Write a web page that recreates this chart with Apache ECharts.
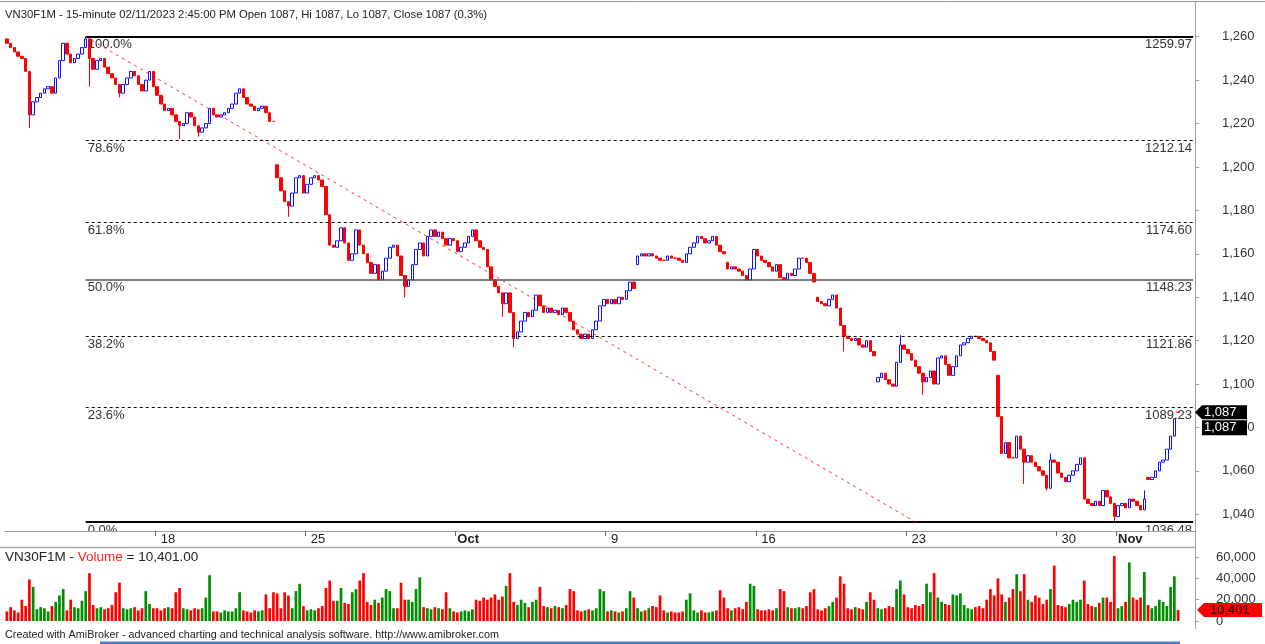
<!DOCTYPE html>
<html>
<head>
<meta charset="utf-8">
<title>VN30F1M 15-minute</title>
<script src="https://cdn.jsdelivr.net/npm/echarts@6.0.0/dist/echarts.min.js"></script>
<style>
html,body{margin:0;padding:0;background:#fff;}
#main{width:1265px;height:644px;}
</style>
</head>
<body>
<div id="main"></div>
<script>
var FONT = '"Liberation Sans", Arial, sans-serif';

// closes, 8 bars per session (last session has one more bar)
var closes = [
    1257,1255,1253,1251,1250,1244,1224,1230,
    1232,1234,1236,1237,1234,1241,1249,1257,
    1252,1248,1250,1252,1255,1259,1250,1245,
    1249,1250,1246,1243,1241,1238,1234,1238,
    1241,1244,1242,1238,1235,1240,1244,1237,
    1233,1229,1226,1227,1224,1221,1219,1220,
    1225,1223,1219,1216,1218,1220,1227,1224,
    1223,1224,1225,1227,1229,1234,1236,1232,
    1229,1228,1226,1227,1228,1225,1221,1221,
    1195,1189,1184,1182,1188,1195,1196,1188,
    1192,1195,1196,1194,1191,1178,1164,1163,
    1166,1172,1165,1157,1160,1171,1164,1160,
    1156,1151,1155,1148,1152,1158,1163,1164,
    1159,1150,1145,1148,1155,1162,1165,1159,
    1168,1171,1168,1170,1167,1164,1167,1166,
    1161,1163,1165,1168,1171,1166,1163,1162,
    1154,1148,1145,1142,1137,1142,1133,1121,
    1124,1129,1133,1131,1134,1141,1136,1133,
    1135,1133,1134,1132,1135,1133,1129,1125,
    1123,1121,1123,1121,1125,1129,1136,1139,
    1137,1139,1137,1140,1139,1143,1147,1144,
    1159,1160,1159,1160,1159,1158,1157,1157,
    1159,1158,1158,1157,1156,1160,1163,1165,
    1168,1167,1165,1166,1168,1164,1161,1160,
    1153,1154,1153,1152,1150,1148,1153,1162,
    1159,1157,1156,1154,1152,1155,1149,1148,
    1151,1150,1153,1158,1158,1156,1151,1147,
    1138,1137,1136,1139,1141,1135,1127,1122,
    1121,1120,1121,1118,1117,1120,1115,1113,
    1103,1105,1102,1100,1099,1110,1118,1116,
    1114,1111,1108,1105,1101,1103,1106,1100,
    1112,1113,1109,1104,1108,1113,1118,1119,
    1121,1122,1122,1121,1120,1119,1115,1111,
    1085,1068,1073,1066,1066,1076,1070,1064,
    1067,1064,1062,1060,1058,1052,1065,1064,
    1059,1057,1055,1058,1060,1063,1066,1047,
    1045,1044,1046,1044,1051,1048,1045,1039,
    1044,1045,1043,1047,1046,1044,1042,1047,
    1056,1057,1060,1064,1065,1070,1076,1084,1087
];

// opens where the session gapped (bar index, open); other bars open at the previous close
var sessionOpens = [[0,1259],[72,1201],[168,1155],[192,1156],[216,1140],[232,1101],[264,1104],[304,1057],[312,1087]];

// long shadows (bar index, low, high)
var wicks = [
    [6,1218,null],[21,null,1259.97],[22,1237,null],[30,1232,null],[46,1213,null],[51,1214,null],
    [75,1177,null],[106,1140,null],[132,1131,null],[135,1117,null],[223,1115,null],[238,null,1122.5],
    [244,1095,null],[271,1054,null],[277,1051,null],[278,null,1068],[295,1036.48,null],[303,null,1051]
];

var volumes = [
    9000,13000,10000,8000,20000,14000,39000,32000,
    11000,13000,12000,9000,14000,18000,24000,30000,
    10000,20000,13000,12000,19000,28000,45000,15000,
    12000,13000,11000,12000,15000,27000,36000,12000,
    11000,12000,13000,10000,12000,28000,16000,12000,
    12000,10000,12000,13000,12000,27000,31000,12000,
    11000,10000,12000,11000,12000,22000,43000,9000,
    9000,8000,10000,9000,9000,12000,27000,10000,
    9000,8000,10000,9000,10000,25000,12000,27000,
    26000,12000,27000,24000,12000,28000,35000,14000,
    10000,11000,10000,12000,14000,31000,38000,19000,
    19000,31000,17000,16000,27000,30000,38000,45000,
    18000,15000,20000,17000,22000,30000,28000,12000,
    12000,36000,20000,20000,18000,30000,41000,13000,
    12000,11000,13000,12000,11000,27000,12000,9000,
    8000,9000,10000,9000,11000,20000,19000,22000,
    20000,22000,25000,20000,23000,33000,45000,18000,
    15000,20000,17000,13000,18000,20000,32000,14000,
    13000,12000,14000,13000,12000,15000,30000,28000,
    10000,9000,10000,11000,10000,12000,30000,28000,
    9000,10000,9000,8000,9000,12000,28000,22000,
    12000,9000,10000,12000,14000,13000,24000,10000,
    8000,9000,8000,8000,9000,20000,26000,10000,
    8000,10000,8000,8000,9000,10000,29000,22000,
    12000,10000,12000,13000,11000,18000,35000,33000,
    11000,10000,10000,11000,10000,12000,30000,28000,
    13000,12000,12000,13000,12000,14000,27000,30000,
    11000,10000,12000,14000,18000,22000,42000,35000,
    12000,11000,13000,12000,11000,18000,27000,20000,
    12000,11000,12000,14000,13000,30000,38000,25000,
    13000,12000,15000,14000,16000,35000,27000,45000,
    22000,18000,16000,15000,25000,24000,26000,15000,
    12000,11000,13000,14000,12000,20000,30000,24000,
    40000,25000,18000,22000,30000,44000,28000,44000,
    20000,18000,24000,22000,16000,20000,30000,52000,
    15000,14000,13000,16000,20000,18000,20000,38000,
    16000,14000,13000,17000,22000,22000,18000,61000,
    12000,14000,18000,55000,22000,20000,22000,46000,
    15000,12000,14000,20000,18000,14000,32000,42000,10401
];

// session index -> axis label
var dayTicks = [[5,'18'],[10,'25'],[15,'Oct'],[20,'9'],[25,'16'],[30,'23'],[35,'30'],[37,'Nov']];
var BARS_PER_DAY = 8;
var PAD = 4;   // empty slots right of the last bar

var fibLevels = ['100.0%','78.6%','61.8%','50.0%','38.2%','23.6%','0.0%'];
var fibValues = [1259.97,1212.14,1174.60,1148.23,1121.86,1089.23,1036.48];
var fibStart = 21;
var trendFrom = [21, 1259.97];
var trendTo = [242, 1036.48];

var priceTicks = [1040,1060,1080,1100,1120,1140,1160,1180,1200,1220,1240,1260];
var volumeTicks = [0,20000,40000,60000];
var lastPrice = 1087;
var lastVolume = 10401;

/**
 * 组装K线、成交量、类目
 */
var openMap = {}, wickMap = {};
sessionOpens.forEach(function(s){ openMap[s[0]] = s[1]; });
wicks.forEach(function(w){ wickMap[w[0]] = w; });

var ohlc = [], volData = [], cats = [];
for (var i = 0; i < closes.length; i++) {
    var o = openMap[i] != null ? openMap[i] : closes[i-1];
    var c = closes[i];
    var lo = Math.min(o, c), hi = Math.max(o, c);
    if (wickMap[i]) {
        if (wickMap[i][1] != null) lo = wickMap[i][1];
        if (wickMap[i][2] != null) hi = wickMap[i][2];
    }
    ohlc.push([o, c, lo, hi]);
    volData.push({value: volumes[i], itemStyle: {color: c > o ? '#008f00' : '#ff0000'}});
    cats.push('');
}
for (var p = 0; p < PAD; p++) { ohlc.push('-'); volData.push('-'); cats.push(''); }
dayTicks.forEach(function(t){ cats[t[0] * BARS_PER_DAY] = t[1]; });
var lastIdx = cats.length - 1;

function hasLabel(idx){ return cats[idx] !== ''; }
function thousands(v){ return Math.round(v).toLocaleString('en-US'); }

function fibStyle(i){
    if (i === 0 || i === fibValues.length - 1) return {color:'#000', width:2, type:'solid'};
    if (fibLevels[i] === '50.0%') return {color:'#555', width:1.5, type:'solid'};
    return {color:'#000', width:1, type:[3,3]};
}

var markData = fibValues.map(function(v, i){
    return [{coord:[fibStart, v], lineStyle: fibStyle(i)}, {coord:[lastIdx, v]}];
});
markData.push([{coord: trendFrom, lineStyle:{color:'rgba(255,0,0,0.8)', width:1, type:[3,4]}}, {coord: trendTo}]);

var axisGray = '#a0a0a0';

var option = {
    animation: false,
    backgroundColor: '#fff',
    grid: [
        {left:5, right:70, top:2, height:529},
        {left:5, right:70, top:547, height:74}
    ],
    xAxis: [{
        type:'category', gridIndex:0, data:cats, boundaryGap:true, z:5,
        axisLine:{lineStyle:{color:axisGray, width:1}},
        axisTick:{show:true, length:5, interval:hasLabel, lineStyle:{color:'#666'}},
        axisLabel:{
            interval:hasLabel, align:'left', margin:2, color:'#222', fontSize:13, fontFamily:FONT,
            formatter:function(v){ return (v === 'Oct' || v === 'Nov') ? '{b|' + v + '}' : ' ' + v; },
            rich:{b:{fontWeight:'bold', fontSize:13, fontFamily:FONT, color:'#222'}}
        },
        splitLine:{show:false}
    }, {
        type:'category', gridIndex:1, data:cats, boundaryGap:true,
        axisLine:{show:false}, axisTick:{show:false}, axisLabel:{show:false}
    }],
    yAxis: [{
        type:'value', gridIndex:0, position:'right', min:1032.3, max:1276,
        axisLine:{show:true, lineStyle:{color:axisGray}},
        axisTick:{show:true, length:4, lineStyle:{color:axisGray}, customValues:priceTicks},
        axisLabel:{color:'#333', fontSize:13, fontFamily:FONT, margin:27, customValues:priceTicks, formatter:thousands},
        splitLine:{show:false}
    }, {
        type:'value', gridIndex:1, position:'right', min:0, max:69500,
        axisLine:{show:true, lineStyle:{color:axisGray}},
        axisTick:{show:true, length:4, lineStyle:{color:axisGray}, customValues:volumeTicks},
        axisLabel:{color:'#333', fontSize:13, fontFamily:FONT, margin:21, customValues:volumeTicks, formatter:thousands},
        splitLine:{show:false}
    }],
    series: [{
        type:'candlestick', xAxisIndex:0, yAxisIndex:0, data:ohlc, barWidth:3,
        itemStyle:{color:'#ffffff', color0:'#ff0000', borderColor:'#1010ff', borderColor0:'#ff0000', borderColorDoji:'#ff0000', borderWidth:1},
        markLine:{silent:true, symbol:['none','none'], label:{show:false}, data:markData}
    }, {
        type:'bar', xAxisIndex:1, yAxisIndex:1, data:volData, barWidth:2.7
    }]
};

var chart = echarts.init(document.getElementById('main'));
chart.setOption(option);

/**
 * 文本、标签、价格标记
 */
function txt(x, y, s, opt){
    opt = opt || {};
    return {type:'text', x:x, y:y, z:opt.z || 10, style:{
        text:s, fill:opt.fill || '#222', font:(opt.bold ? 'bold ' : '') + (opt.size || 13) + 'px ' + FONT,
        align:opt.align || 'left', textAlign:opt.align || 'left',
        verticalAlign:'middle', textVerticalAlign:'middle', rich:opt.rich
    }};
}

var g = [];
g.push({type:'line', z:10, shape:{x1:0, y1:1.5, x2:1265, y2:1.5}, style:{stroke:'#999', lineWidth:1}});
g.push(txt(5, 15, 'VN30F1M - 15-minute 02/11/2023 2:45:00 PM Open 1087, Hi 1087, Lo 1087, Close 1087 (0.3%)', {size:11.3}));

fibValues.forEach(function(v, i){
    var py = chart.convertToPixel({gridIndex:0}, [fibStart, v]);
    g.push(txt(py[0] + 2, py[1] + 8, fibLevels[i], {fill:'#333', z:1}));
    g.push(txt(1192, py[1] + 8, v.toFixed(2), {fill:'#333', align:'right', z:1}));
});

// hide the part of the 0% labels under the axis
g.push({type:'rect', z:3, shape:{x:0, y:531.5, width:1194.5, height:15.5}, style:{fill:'#fff'}});
g.push({type:'line', z:10, shape:{x1:0, y1:547.5, x2:1196, y2:547.5}, style:{stroke:'#aaa', lineWidth:1.5}});
g.push({type:'line', z:10, shape:{x1:1195.5, y1:531, x2:1195.5, y2:547}, style:{stroke:axisGray, lineWidth:1}});
g.push({type:'line', z:10, shape:{x1:1195.5, y1:621, x2:1195.5, y2:629}, style:{stroke:axisGray, lineWidth:1}});

// last price tags
var pp = chart.convertToPixel({gridIndex:0}, [lastIdx, lastPrice]);
var yy = pp[1];
g.push({type:'polygon', z:10, shape:{points:[[1195,yy],[1202,yy-7],[1247,yy-7],[1247,yy+7],[1202,yy+7]]}, style:{fill:'#000'}});
g.push(txt(1204, yy, thousands(lastPrice), {fill:'#fff'}));
g.push({type:'rect', z:10, shape:{x:1202, y:yy+8, width:45, height:15}, style:{fill:'#000'}});
g.push(txt(1204, yy + 15.5, thousands(lastPrice), {fill:'#fff'}));

// last volume tag
var vp = chart.convertToPixel({gridIndex:1}, [lastIdx, lastVolume]);
var vy = vp[1];
g.push({type:'polygon', z:10, shape:{points:[[1197,vy],[1204,vy-7],[1262,vy-7],[1262,vy+7],[1204,vy+7]]}, style:{fill:'#ff0000'}});
g.push(txt(1210, vy, thousands(lastVolume), {fill:'#000'}));

g.push(txt(5, 557, '{a|VN30F1M - }{r|Volume}{a| = 10,401.00}', {rich:{
    a:{fill:'#222', color:'#222', font:'13.5px ' + FONT, fontSize:13.5, fontFamily:FONT},
    r:{fill:'#ff2020', color:'#ff2020', font:'13.5px ' + FONT, fontSize:13.5, fontFamily:FONT}
}}));
g.push(txt(5, 635, 'Created with AmiBroker - advanced charting and technical analysis software. http://www.amibroker.com', {size:10.8}));
g.push({type:'rect', z:10, shape:{x:100, y:641.5, width:1080, height:2.5}, style:{fill:'#4f7fbf'}});

chart.setOption({graphic:{elements:g}});
</script>
</body>
</html>
